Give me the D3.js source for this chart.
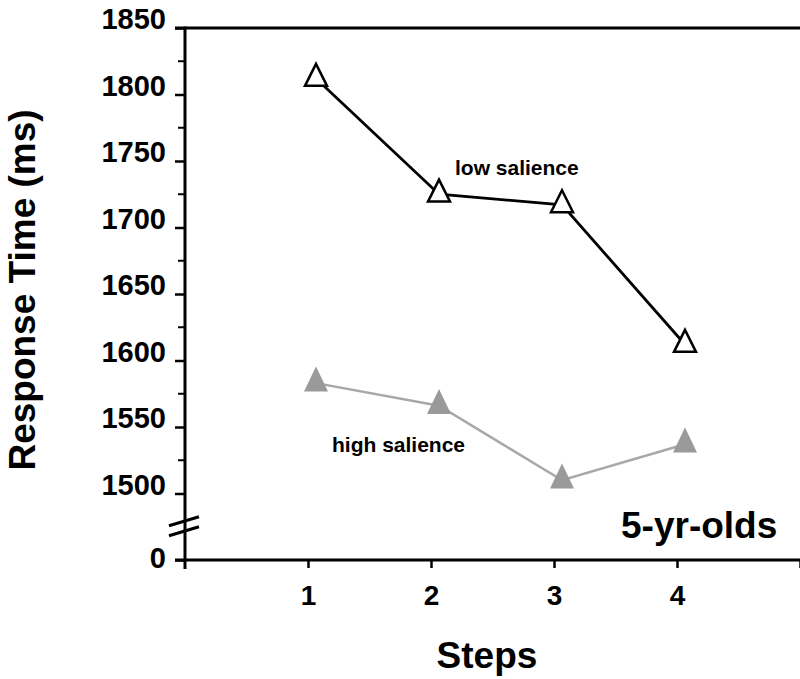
<!DOCTYPE html>
<html>
<head>
<meta charset="utf-8">
<script src="https://cdn.jsdelivr.net/npm/d3@7"></script>
<style>
	body { margin: 0; background: #fff; }
	text { font-family: "Liberation Sans", Arial, Helvetica, sans-serif; font-weight: bold; fill: #000; }
</style>
</head>
<body>
<svg id="chart" width="800" height="679"></svg>
<script>
// data
var steps = [1, 2, 3, 4];
var lowSalience = [1812, 1725, 1717, 1612];
var highSalience = [1583, 1566, 1510, 1537];
var yTickValues = [1450, 1500, 1550, 1600, 1650, 1700, 1750, 1800, 1850]; // 1450 slot is the "0" below the break
var yMinorValues = [1525, 1575, 1625, 1675, 1725, 1775, 1825];
var xTickValues = [1, 2, 3, 4, 5];
var xTickLabels = ["1", "2", "3", "4", ""];

var svg = d3.select("#chart");

var x = d3.scaleLinear().domain([0, 5]).range([185, 800]);
var y = d3.scaleLinear().domain([1450, 1850]).range([560, 28]);
var pointShift = 8; // markers sit a little right of the tick

// top frame line
svg.append("line")
	.attr("x1", 175).attr("x2", 800)
	.attr("y1", y(1850)).attr("y2", y(1850))
	.attr("stroke", "#000").attr("stroke-width", 3);

// y axis
var yAxis = d3.axisLeft(y)
	.tickValues(yTickValues)
	.tickSize(10)
	.tickSizeOuter(0)
	.tickPadding(9)
	.tickFormat(function (d) { return d === 1450 ? "0" : d; });

var gy = svg.append("g").attr("transform", "translate(" + x(0) + ",0)").call(yAxis);
gy.select(".domain").remove();
gy.selectAll(".tick line").attr("stroke", "#000").attr("stroke-width", 2.5);
gy.selectAll(".tick text")
	.attr("font-size", 29)
	.attr("dy", function (d) { return d === 1450 ? "0.25em" : "0.02em"; })
	.style("font-family", "Liberation Sans, Arial, sans-serif")
	.style("font-weight", "bold");

// minor ticks
svg.selectAll(".minor")
	.data(yMinorValues)
	.enter().append("line")
	.attr("class", "minor")
	.attr("x1", x(0) - 7).attr("x2", x(0))
	.attr("y1", function (d) { return y(d); }).attr("y2", function (d) { return y(d); })
	.attr("stroke", "#000").attr("stroke-width", 2);

svg.append("line")
	.attr("x1", x(0)).attr("x2", x(0))
	.attr("y1", y(1850) - 1.5).attr("y2", y(1450) + 9)
	.attr("stroke", "#000").attr("stroke-width", 3);

// axis break marks
var breakY = (y(1500) + y(1450)) / 2;
[-5, 5].forEach(function (off) {
	svg.append("line")
		.attr("x1", x(0) - 16).attr("y1", breakY + off + 4)
		.attr("x2", x(0) + 14).attr("y2", breakY + off - 5)
		.attr("stroke", "#000").attr("stroke-width", 3);
});

// x axis
var xAxis = d3.axisBottom(x)
	.tickValues(xTickValues)
	.tickSize(8)
	.tickSizeOuter(0)
	.tickPadding(17)
	.tickFormat(function (d, i) { return xTickLabels[i]; });

var gx = svg.append("g").attr("transform", "translate(0," + y(1450) + ")").call(xAxis);
gx.select(".domain").remove();
gx.selectAll(".tick line").attr("stroke", "#000").attr("stroke-width", 2.5);
gx.selectAll(".tick text")
	.attr("font-size", 28)
	.style("font-family", "Liberation Sans, Arial, sans-serif")
	.style("font-weight", "bold");

svg.append("line")
	.attr("x1", 175).attr("x2", 800)
	.attr("y1", y(1450)).attr("y2", y(1450))
	.attr("stroke", "#000").attr("stroke-width", 3);

// triangle marker, centroid at origin
function triangle(w, h) {
	var p = d3.path();
	p.moveTo(0, -h * 2 / 3);
	p.lineTo(w / 2, h / 3);
	p.lineTo(-w / 2, h / 3);
	p.closePath();
	return p.toString();
}

var line = d3.line()
	.x(function (d, i) { return x(steps[i]) + pointShift; })
	.y(function (d) { return y(d); });

// high salience series
svg.append("path")
	.datum(highSalience)
	.attr("d", line)
	.attr("fill", "none")
	.attr("stroke", "#a8a8a8")
	.attr("stroke-width", 2.5);

svg.selectAll(".hi")
	.data(highSalience)
	.enter().append("path")
	.attr("class", "hi")
	.attr("d", triangle(24, 25))
	.attr("transform", function (d, i) { return "translate(" + (x(steps[i]) + pointShift) + "," + y(d) + ")"; })
	.attr("fill", "#9a9a9a");

// low salience series
svg.append("path")
	.datum(lowSalience)
	.attr("d", line)
	.attr("fill", "none")
	.attr("stroke", "#000")
	.attr("stroke-width", 2.8);

svg.selectAll(".lo")
	.data(lowSalience)
	.enter().append("path")
	.attr("class", "lo")
	.attr("d", triangle(22, 22))
	.attr("transform", function (d, i) { return "translate(" + (x(steps[i]) + pointShift) + "," + y(d) + ")"; })
	.attr("fill", "#fff")
	.attr("stroke", "#000")
	.attr("stroke-width", 2.5);

// annotations
svg.append("text").attr("x", 455).attr("y", 175).attr("font-size", 21).text("low salience");
svg.append("text").attr("x", 332).attr("y", 452).attr("font-size", 21).text("high salience");
svg.append("text").attr("x", 621).attr("y", 538).attr("font-size", 37).text("5-yr-olds");

// axis titles
svg.append("text")
	.attr("x", 487).attr("y", 668)
	.attr("text-anchor", "middle")
	.attr("font-size", 37)
	.text("Steps");

svg.append("text")
	.attr("transform", "translate(35,290) rotate(-90)")
	.attr("text-anchor", "middle")
	.attr("font-size", 37)
	.text("Response Time (ms)");
</script>
</body>
</html>
